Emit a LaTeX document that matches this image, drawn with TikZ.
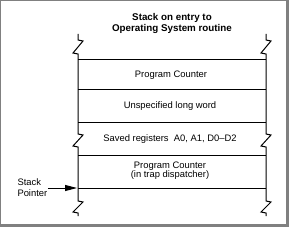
\documentclass[tikz,border=0pt]{standalone}
\usepackage{fontspec}
\setmainfont{Liberation Sans}
\usetikzlibrary{arrows.meta}
\definecolor{framegray}{HTML}{808080}
\begin{document}
\begin{tikzpicture}[x=1pt,y=-1pt,line width=1pt,
  cell/.style={font=\fontsize{9.4}{9.5}\selectfont,align=center,inner sep=0pt},
  ttl/.style={font=\bfseries\fontsize{9.8}{11}\selectfont,align=center,inner sep=0pt},
  rule/.style={draw=black,line width=1pt},
  pointer/.style={draw=black,line width=1pt,-{Triangle[length=12pt,width=6pt]}}]
\useasboundingbox (0,0) rectangle (289,227);
% frame
\fill[framegray] (0,0) rectangle (1,227);
\fill[framegray] (0,0) rectangle (289,1);
\fill[framegray] (286,0) rectangle (289,227);
\fill[framegray] (0,224) rectangle (289,227);
% side lines with break marks
\foreach \sx in {78,266}{
  \draw[rule] (\sx,34) -- (\sx,40) -- (\sx+5,41) -- (\sx-5,53) -- (\sx,54)
     -- (\sx,134) -- (\sx+5,135) -- (\sx-5,146) -- (\sx,147)
     -- (\sx,201) -- (\sx+5,202) -- (\sx-5,212) -- (\sx,213) -- (\sx,216);
}
% horizontal rules
\foreach \hy in {60,90,123,155,188}{
  \draw[rule] (78,\hy) -- (266,\hy);
}
% texts
\node[ttl] (title) at (172,23.5) {Stack on entry to\\Operating System routine};
\node[cell] (r1) at (171,75) {Program Counter};
\node[cell] (r2) at (170,106) {Unspecified long word};
\node[cell] (r3) at (170,139) {Saved registers\ \ A0, A1, D0–D2};
\node[cell] (r4) at (170,170.5) {Program Counter\\(in trap dispatcher)};
\node[cell,font=\fontsize{9.4}{11}\selectfont,align=left,anchor=west] (sp) at (17,187.5) {Stack\\Pointer};
\coordinate (spt) at (77,188);
\draw[pointer] (sp.east |- spt) -- (spt);
\end{tikzpicture}
\end{document}
